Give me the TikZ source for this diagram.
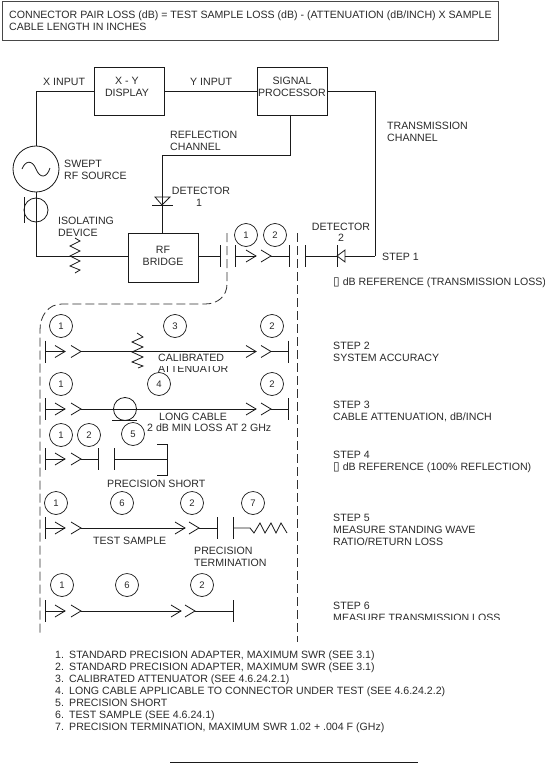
\documentclass[tikz,border=0pt]{standalone}
\usepackage{fontspec}
\setmainfont{Liberation Sans}
\newfontfamily\symfont{DejaVu Sans}
\definecolor{ink}{HTML}{1A1A1A}
\definecolor{txt}{HTML}{2A2A2A}
\newcommand{\zd}{{\symfont\fontsize{12}{12}\selectfont ▯}}
\newcommand{\li}[1]{\makebox[14pt][l]{#1}}
\tikzset{
  wire/.style={draw=ink,line width=0.8pt},
  boxn/.style={draw=ink,line width=0.8pt,minimum width=70pt,minimum height=48pt,inner sep=0pt},
  lab/.style={anchor=base west,inner sep=0pt,align=left,text=txt,font=\fontsize{10.6}{12}\selectfont},
  labc/.style={anchor=base,inner sep=0pt,align=center,text=txt,font=\fontsize{10.6}{12}\selectfont},
  num/.style={circle,draw=ink,line width=0.7pt,minimum size=23pt,inner sep=0pt,text=txt,font=\fontsize{9.5}{9.5}\selectfont},
  dashb/.style={draw=ink!90,line width=0.8pt,dash pattern=on 9pt off 4pt}
}
% chevron: tip at (#1,#2), opening left
\newcommand{\chev}[2]{\draw[wire] (#1-10,#2-6) -- (#1,#2) -- (#1-10,#2+6);}
\newcommand{\vbar}[2]{\draw[wire] (#1,#2-11) -- (#1,#2+11);}
\begin{document}
\begin{tikzpicture}[x=1pt,y=-1pt]
\useasboundingbox (0,0) rectangle (545,765);
\fill[white] (0,0) rectangle (545,765);

% formula box
\node[draw=ink!80,line width=1pt,anchor=north west,minimum width=496pt,minimum height=39pt,inner sep=0pt] (fbox) at (2,1) {};
\node[lab] (ftext) at (9,31) {CONNECTOR PAIR LOSS (dB) = TEST SAMPLE LOSS (dB) - (ATTENUATION (dB/INCH) X SAMPLE\\CABLE LENGTH IN INCHES};

% main instruments
\node[boxn] (xy) at (129,91) {};
\node[boxn] (sp) at (292,91) {};
\node[boxn,minimum height=49pt] (bridge) at (163,257.5) {};
\node[labc] (xyt) at (127,97) {X - Y\\DISPLAY};
\node[labc] (spt) at (292,97) {SIGNAL\\PROCESSOR};
\node[labc] (brt) at (163,265.5) {RF\\BRIDGE};
\node[circle,draw=ink,line width=0.8pt,minimum size=46pt,inner sep=0pt] (src) at (36,169) {};
\node[circle,draw=ink,line width=0.8pt,minimum size=24pt,inner sep=0pt] (iso) at (36,210) {};
\draw[wire] (24,197) -- (24,223);
\draw[wire] (22,169) .. controls (25,161) and (32,159) .. (36,169) .. controls (40,179) and (47,178) .. (50,168);

\draw[wire] (xy.west) -| (src.north);
\draw[wire] (xy.east) -- (sp.west);
\coordinate (isojoin) at (75,256);
\draw[wire] (src.south) |- (isojoin);
\draw[wire] (isojoin) -- (isojoin -| bridge.west);
\draw[wire] (75,238) -- (80,241) -- (70,246) -- (80,251) -- (70,256) -- (80,261) -- (70,266) -- (80,270) -- (75,273);

% reflection channel
\coordinate (rc) at (162,155);
\coordinate (spb) at (290,115);
\coordinate (d1) at (162,205);
\draw[wire] (spb) |- (rc) -- (d1);
\draw[wire] (d1) -- (162,233);
\draw[wire] (155,197) -- (170,197) -- (162,205) -- cycle;
\draw[wire] (152,205) -- (173,205);

% step 1 chain
\coordinate (b1) at (220,256);
\draw[wire] (b1 -| bridge.east) -- (b1);
\vbar{220}{256}
\vbar{235}{256}
\draw[wire] (235,256) -- (256,256);
\chev{256}{256}
\chev{271}{256}
\draw[wire] (271,256) -- (289,256);
\vbar{289}{256}
\vbar{305}{256}
\coordinate (d2) at (337,256);
\coordinate (tc) at (375,256);
\draw[wire] (305,256) -- (d2);
\vbar{337}{256}
\draw[wire] (337,256) -- (345,250) -- (345,262) -- cycle;
\draw[wire] (345,256) -- (tc);
\draw[wire] (tc) |- (sp.east);

% dashed enclosure
\draw[dashb] (227,233) -- (227,284) .. controls (227,296) and (218,304) .. (205,304) -- (62,304) .. controls (48,304) and (40,316) .. (40,330) -- (40,636);
\draw[dashb] (297,233) -- (297,642);

% step 2
\vbar{45}{351.5}
\draw[wire] (45,351.5) -- (65,351.5);
\chev{65}{351.5}\chev{81}{351.5}
\draw[wire] (81,351.5) -- (256,351.5);
\chev{256}{351.5}\chev{271}{351.5}
\draw[wire] (271,351.5) -- (288,351.5);
\vbar{288}{351.5}
\draw[wire] (137,333) -- (143,337) -- (132,342) -- (143,347) -- (132,352) -- (143,357) -- (132,362) -- (143,366) -- (138,368);

% step 3
\vbar{45}{409}
\draw[wire] (45,409) -- (65,409);
\chev{65}{409}\chev{81}{409}
\node[circle,draw=ink,line width=0.8pt,minimum size=23pt,inner sep=0pt] (cable) at (125,409) {};
\draw[wire] (81,409) -- (256,409);
\chev{256}{409}\chev{271}{409}
\draw[wire] (271,409) -- (288,409);
\vbar{288}{409}
\draw[wire] (112,420) -- (137,420);

% step 4
\vbar{45}{459}
\draw[wire] (45,459) -- (65,459);
\chev{65}{459}\chev{81}{459}
\draw[wire] (81,459) -- (98,459);
\vbar{98}{459}
\vbar{114}{459}
\draw[wire] (114,459) -- (167,459);
\draw[wire] (157,444) -- (167,444) -- (167,475) -- (157,475);

% step 5
\vbar{45}{528}
\draw[wire] (45,528) -- (65,528);
\chev{65}{528}\chev{81}{528}
\draw[wire] (81,528) -- (185,528);
\chev{185}{528}\chev{199}{528}
\draw[wire] (199,528) -- (217,528);
\vbar{217}{528}
\vbar{233}{528}
\draw[wire] (233,528) -- (250,528) -- (254,533) -- (260,523) -- (265,533) -- (271,523) -- (276,533) -- (281,523) -- (287,533);

% step 6
\vbar{45}{611}
\draw[wire] (45,611) -- (65,611);
\chev{65}{611}\chev{81}{611}
\draw[wire] (81,611) -- (181,611);
\chev{181}{611}\chev{195}{611}
\draw[wire] (195,611) -- (233,611);
\vbar{233}{611}

% numbered circles
\node[num] (n1a) at (246,235) {1};
\node[num] (n2a) at (275,235) {2};
\node[num] (n1b) at (61,326) {1};
\node[num] (n3b) at (175,326) {3};
\node[num] (n2b) at (272,326) {2};
\node[num] (n1c) at (61,384) {1};
\node[num] (n4c) at (159,384) {4};
\node[num] (n2c) at (272,384) {2};
\node[num] (n1d) at (61,435) {1};
\node[num] (n2d) at (89,435) {2};
\node[num] (n5d) at (133,434) {5};
\node[num] (n1e) at (56,503) {1};
\node[num] (n6e) at (122,503) {6};
\node[num] (n2e) at (192,503) {2};
\node[num] (n7e) at (253,503) {7};
\node[num] (n1f) at (62,585) {1};
\node[num] (n6f) at (127,585) {6};
\node[num] (n2f) at (202,585) {2};

% labels
\node[lab] (lx) at (43,86) {X INPUT};
\node[lab] (ly) at (190,86) {Y  INPUT};
\node[lab] (lrc) at (170,150) {REFLECTION\\CHANNEL};
\node[lab] (ltc) at (387,141) {TRANSMISSION\\CHANNEL};
\node[lab] (lsw) at (64,179) {SWEPT\\RF SOURCE};
\node[lab] (liso) at (58,236) {ISOLATING\\DEVICE};
\node[labc] (ld1) at (201,206) {DETECTOR\\\hspace*{-4pt}1};
\node[labc] (ld2) at (341,241) {DETECTOR\\[-1pt]2};

\node[lab] (lcal) at (158,372) {CALIBRATED\\[-1pt]ATTENUATOR};
\fill[white] (156,363) rectangle (232,366);
\node[lab] (lcab) at (159,420) {LONG CABLE};
\node[lab] (lmin) at (147,431) {2 dB MIN LOSS AT 2 GHz};
\node[lab] (lps) at (107,487) {PRECISION SHORT};
\node[lab] (lts) at (93,544) {TEST SAMPLE};
\node[lab] (lpt) at (194,566) {PRECISION\\TERMINATION};

\node[lab] (s1) at (382,260) {STEP 1};
\node[lab] (s1b) at (333,285) {\zd\ dB REFERENCE (TRANSMISSION LOSS)};
\node[lab] (s2) at (333,361) {STEP 2\\SYSTEM ACCURACY};
\node[lab] (s3) at (333,420) {STEP 3\\CABLE ATTENUATION, dB/INCH};
\node[lab] (s4) at (333,470) {STEP 4\\\zd\ dB REFERENCE (100\% REFLECTION)};
\node[lab] (s5) at (333,545) {STEP 5\\MEASURE STANDING WAVE\\RATIO/RETURN LOSS};
\node[lab] (s6) at (333,621) {STEP 6\\MEASURE TRANSMISSION LOSS};
\fill[white] (330,619.5) rectangle (545,626);

% legend
\node[lab] (leg) at (55,730) {\li{1.}STANDARD PRECISION ADAPTER, MAXIMUM SWR (SEE 3.1)\\
\li{2.}STANDARD PRECISION ADAPTER, MAXIMUM SWR (SEE 3.1)\\
\li{3.}CALIBRATED ATTENUATOR (SEE 4.6.24.2.1)\\
\li{4.}LONG CABLE APPLICABLE TO CONNECTOR UNDER TEST (SEE 4.6.24.2.2)\\
\li{5.}PRECISION SHORT\\
\li{6.}TEST SAMPLE (SEE 4.6.24.1)\\
\li{7.}PRECISION TERMINATION, MAXIMUM SWR 1.02 + .004 F (GHz)};

\coordinate (fa) at (170,762.5);
\coordinate (fb) at (418,762.5);
\draw[draw=ink,line width=1.4pt] (fa) -- (fb);
\end{tikzpicture}
\end{document}
